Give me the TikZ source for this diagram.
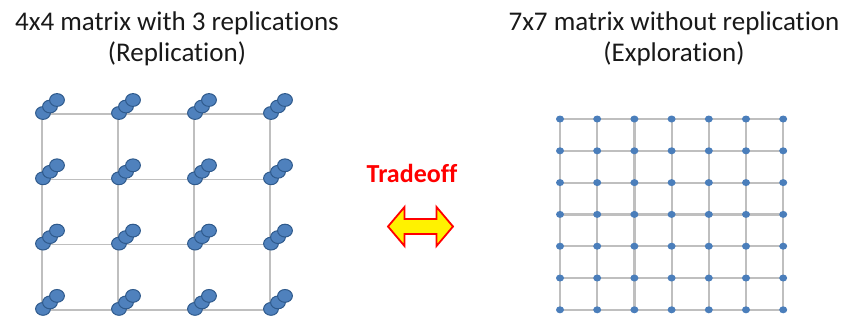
\documentclass[tikz,border=0pt]{standalone}
\usepackage{fontspec}
\setmainfont{Carlito}[Ligatures=NoCommon]
\usetikzlibrary{calc,shapes.geometric}
\definecolor{gridgray}{HTML}{BFBFBF}
\definecolor{nodeblue}{HTML}{4F81BD}
\definecolor{nodeedge}{HTML}{2F5A8C}
\definecolor{dotblue}{HTML}{4A7EBB}
\begin{document}
\begin{tikzpicture}[x=1pt,y=-1pt,
  title/.style={font=\fontsize{27}{32}\selectfont, text=black!90, anchor=base, inner sep=0pt},
  tradetext/.style={font=\bfseries\fontsize{26}{30}\selectfont, text=red, anchor=base, inner sep=0pt},
  gridline/.style={draw=gridgray, line width=1.6pt},
  gridlineR/.style={draw=gridgray, line width=2.2pt},
  replica/.style={fill=nodeblue, draw=nodeedge, line width=1pt},
  dot/.style={ellipse, fill=dotblue, inner sep=0pt, minimum width=8pt, minimum height=7pt},
  arrowshape/.style={fill=yellow, draw=red, line width=1.8pt, line join=miter}
]
\useasboundingbox (0,0) rectangle (852,322);

% titles
\node[title] (t1a) at (177,30) {4x4 matrix with 3 replications};
\node[title] (t1b) at (177,61) {(Replication)};
\node[title] (t2a) at (674,30) {7x7 matrix without replication};
\node[title] (t2b) at (674,61) {(Exploration)};

% tradeoff
\node[tradetext] (trade) at (412,182) {Tradeoff};
\coordinate (arr) at (420.5,226.5);
\draw[arrowshape] ($(arr)+(-32.5,0)$) -- ($(arr)+(-16,-19.5)$) -- ($(arr)+(-16,-7.5)$)
  -- ($(arr)+(16,-7.5)$) -- ($(arr)+(16,-19.5)$) -- ($(arr)+(32.5,0)$)
  -- ($(arr)+(16,19.5)$) -- ($(arr)+(16,7.5)$) -- ($(arr)+(-16,7.5)$)
  -- ($(arr)+(-16,19.5)$) -- cycle;

% left 4x4 grid
\foreach \i in {0,...,3}{
  \foreach \j in {0,...,3}{
    \coordinate (L-\i-\j) at ({42+76*\i},{114+65.3*\j});
  }
}
\foreach \k in {0,...,3}{
  \draw[gridline] (L-0-\k) -- (L-3-\k);
  \draw[gridline] (L-\k-0) -- (L-\k-3);
}
\foreach \i in {0,...,3}{
  \foreach \j in {0,...,3}{
    \foreach \s in {0,1,2}{
      \draw[replica] ($(L-\i-\j)+({1+7*\s},{-1-6.5*\s})$) ellipse [x radius=7.4, y radius=6.4];
    }
  }
}

% right 7x7 grid
\foreach \i in {0,...,6}{
  \foreach \j in {0,...,6}{
    \coordinate (R-\i-\j) at ({560+37.2*\i},{119+31.8*\j});
  }
}
\foreach \k in {0,...,6}{
  \draw[gridlineR] (R-0-\k) -- (R-6-\k);
  \draw[gridlineR] (R-\k-0) -- (R-\k-6);
}
\foreach \i in {0,...,6}{
  \foreach \j in {0,...,6}{
    \node[dot] (D-\i-\j) at (R-\i-\j) {};
  }
}
\end{tikzpicture}
\end{document}
